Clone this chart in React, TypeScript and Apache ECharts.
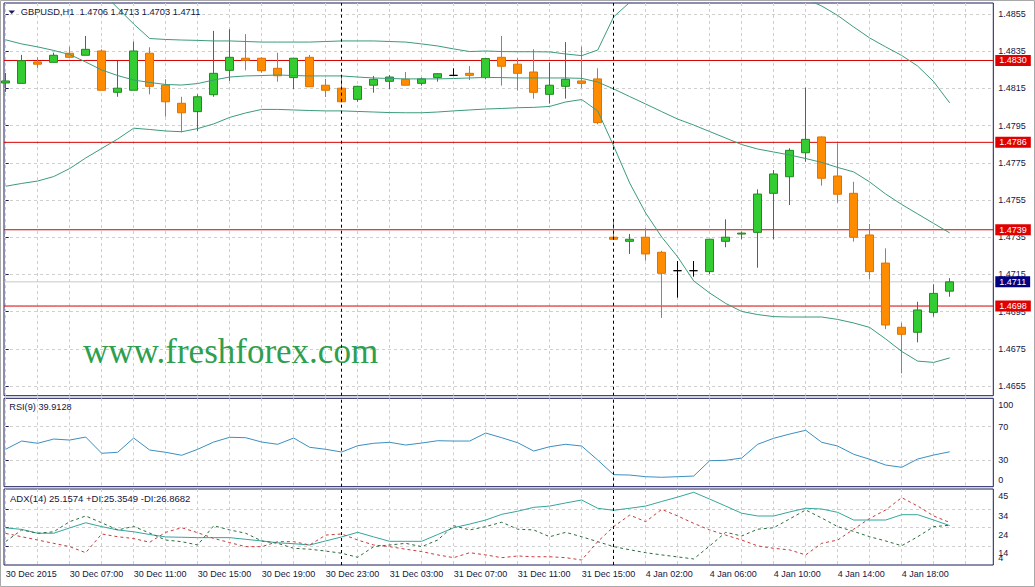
import React, { useEffect, useRef } from 'react';
import * as echarts from 'echarts';

// ---------- data ----------
const opens = [1.48179,1.48177,1.48292,1.48290,1.48339,1.48328,1.48351,1.48129,1.48140,1.48339,
1.48168,1.48070,1.48025,1.48116,1.48247,1.48312,1.48312,1.48258,1.48208,1.48317,
1.48167,1.48151,1.48091,1.48167,1.48188,1.48199,1.48177,1.48208,1.48220,1.48231,
1.48208,1.48317,1.48280,1.48238,1.48118,1.48161,1.48190,1.48201,1.47350,1.47328,
1.47350,1.47269,1.47170,1.47170,1.47165,1.47328,1.47367,1.47376,1.47586,1.47675,
1.47804,1.47889,1.47679,1.47586,1.47362,1.47211,1.46866,1.46839,1.46946,1.47060];
const highs = [1.48233,1.48330,1.48317,1.48342,1.48374,1.48432,1.48360,1.48297,1.48401,1.48371,
1.48199,1.48105,1.48118,1.48459,1.48468,1.48442,1.48317,1.48342,1.48312,1.48330,
1.48201,1.48222,1.48164,1.48217,1.48222,1.48238,1.48208,1.48232,1.48258,1.48270,
1.48312,1.48432,1.48312,1.48360,1.48290,1.48399,1.48374,1.48258,1.47446,1.47367,
1.47398,1.47277,1.47222,1.47222,1.47339,1.47446,1.47380,1.47607,1.47711,1.47828,
1.48154,1.47892,1.47855,1.47648,1.47421,1.47290,1.46890,1.47003,1.47097,1.47130];
const lows = [1.48131,1.48177,1.48258,1.48290,1.48317,1.48328,1.48140,1.48105,1.48140,1.48118,
1.47998,1.47914,1.47921,1.48105,1.48190,1.48247,1.48234,1.48186,1.48147,1.48159,
1.48104,1.48075,1.48078,1.48127,1.48147,1.48167,1.48165,1.48186,1.48220,1.48195,
1.48199,1.48165,1.48138,1.48095,1.48068,1.48095,1.48151,1.47957,1.47339,1.47260,
1.47224,1.46916,1.47025,1.47138,1.47152,1.47296,1.47339,1.47186,1.47339,1.47523,
1.47756,1.47627,1.47536,1.47326,1.47125,1.46856,1.46618,1.46785,1.46923,1.47030];
const closes = [1.48190,1.48299,1.48280,1.48328,1.48317,1.48360,1.48140,1.48151,1.48351,1.48161,
1.48078,1.48019,1.48105,1.48231,1.48317,1.48301,1.48245,1.48218,1.48312,1.48159,
1.48140,1.48078,1.48161,1.48199,1.48211,1.48167,1.48201,1.48229,1.48220,1.48220,
1.48310,1.48269,1.48231,1.48129,1.48167,1.48199,1.48177,1.47966,1.47339,1.47339,
1.47260,1.47156,1.47170,1.47170,1.47339,1.47350,1.47372,1.47582,1.47690,1.47817,
1.47876,1.47667,1.47581,1.47350,1.47165,1.46878,1.46828,1.46959,1.47048,1.47110];

const bbUpper = [1.48948,1.48921,1.48894,1.48867,1.48840,1.48760,1.48668,1.48582,1.48496,1.48418,
1.48413,1.48410,1.48408,1.48405,1.48405,1.48402,1.48399,1.48399,1.48399,1.48399,
1.48402,1.48405,1.48405,1.48405,1.48402,1.48399,1.48389,1.48378,1.48362,1.48348,
1.48351,1.48348,1.48347,1.48347,1.48346,1.48335,1.48326,1.48356,1.48535,1.48612,
1.48679,1.48760,1.48813,1.48840,1.48867,1.48867,1.48840,1.48787,1.48733,1.48674,
1.48631,1.48593,1.48542,1.48480,1.48421,1.48373,1.48327,1.48270,1.48186,1.48072];
const bbMiddle = [1.48411,1.48389,1.48373,1.48354,1.48332,1.48292,1.48249,1.48219,1.48195,1.48182,
1.48171,1.48168,1.48176,1.48195,1.48211,1.48217,1.48219,1.48222,1.48219,1.48217,
1.48217,1.48217,1.48211,1.48206,1.48203,1.48201,1.48201,1.48201,1.48203,1.48206,
1.48209,1.48208,1.48206,1.48206,1.48206,1.48206,1.48204,1.48184,1.48147,1.48106,
1.48066,1.48025,1.47985,1.47953,1.47918,1.47883,1.47848,1.47824,1.47808,1.47792,
1.47773,1.47752,1.47725,1.47701,1.47647,1.47582,1.47526,1.47475,1.47424,1.47373];
const bbLower = [1.47624,1.47639,1.47652,1.47676,1.47719,1.47776,1.47827,1.47878,1.47936,1.47929,
1.47921,1.47917,1.47934,1.47959,1.47994,1.48018,1.48037,1.48037,1.48034,1.48031,
1.48029,1.48029,1.48026,1.48023,1.48020,1.48019,1.48019,1.48023,1.48029,1.48034,
1.48039,1.48042,1.48046,1.48048,1.48053,1.48077,1.48090,1.48029,1.47840,1.47641,
1.47480,1.47351,1.47244,1.47115,1.47050,1.46994,1.46951,1.46934,1.46923,1.46921,
1.46921,1.46921,1.46908,1.46889,1.46865,1.46803,1.46736,1.46684,1.46677,1.46701];

const rsi = [43.0,52.8,50.1,55.2,54.0,57.6,38.1,39.3,56.4,42.0,
39.3,35.7,42.9,51.6,57.3,56.8,51.6,48.9,56.4,45.3,
42.9,39.6,47.2,50.1,51.3,48.0,50.4,53.2,52.8,52.8,
62.4,56.8,50.8,40.8,46.0,48.9,46.8,30.0,12.4,12.0,
10.0,9.3,10.0,10.8,29.2,29.7,32.4,48.9,56.1,61.2,
65.7,51.3,46.8,36.9,30.9,24.0,21.3,31.2,36.0,39.91];

const adx = [23.9,23.1,21.0,21.0,23.9,26.7,24.6,22.8,21.8,20.3,
19.0,18.8,18.6,18.6,18.6,17.7,16.8,15.8,15.3,14.6,
16.8,19.0,21.5,19.0,16.6,16.6,16.6,20.3,24.0,26.0,
28.2,31.3,33.0,35.1,35.8,37.5,39.1,34.6,33.5,34.6,
35.8,38.3,40.7,43.3,39.6,35.8,31.9,30.4,30.4,32.6,
34.6,34.2,32.4,28.2,28.2,28.2,31.1,31.1,28.2,25.16];
const plusDI = [16.5,22.8,21.0,21.8,27.3,30.4,26.7,22.8,24.7,21.1,
17.3,16.4,14.6,25.1,22.8,21.0,16.8,15.5,12.8,12.3,
11.3,10.1,7.9,13.7,14.6,15.5,13.7,17.3,25.1,22.8,
24.6,27.0,23.2,22.8,19.1,21.5,19.1,16.4,13.7,12.0,
10.4,9.2,8.1,7.0,14.1,21.5,19.5,23.2,24.0,28.8,
33.7,29.3,24.6,22.0,19.1,16.8,14.2,19.1,24.6,25.35];
const minusDI = [20.9,19.1,17.3,15.5,13.7,10.4,20.6,19.1,18.1,16.1,
21.5,24.0,21.3,18.2,15.9,13.7,13.7,16.4,16.4,14.6,
20.0,20.6,17.3,14.6,13.7,12.3,11.0,9.2,7.7,10.4,
9.2,7.7,8.6,8.2,8.2,7.7,6.4,16.4,24.6,30.9,
27.3,34.0,30.4,26.4,22.8,20.0,17.3,14.1,12.8,11.9,
9.2,15.5,17.3,23.2,29.1,33.7,40.4,35.8,30.4,26.87];

const timeLabels = ['30 Dec 2015','30 Dec 07:00','30 Dec 11:00','30 Dec 15:00','30 Dec 19:00',
'30 Dec 23:00','31 Dec 03:00','31 Dec 07:00','31 Dec 11:00','31 Dec 15:00',
'4 Jan 02:00','4 Jan 06:00','4 Jan 10:00','4 Jan 14:00','4 Jan 18:00'];
const timeLabelBars = [0,4,8,12,16,20,24,28,32,36,40,44,48,52,56];
const gridBars = [0,2,4,6,8,10,12,14,16,18,20,22,24,26,28,30,32,34,36,38,40,42,44,46,48,50,52,54,56,58,60];
const separators = [21, 38];

const priceTicks = [1.4655,1.4675,1.4695,1.4715,1.4735,1.4755,1.4775,1.4795,1.4815,1.4835,1.4855];
const levels = [1.4830, 1.4786, 1.4739, 1.4698];
const bidPrice = 1.4711;
const rsiMidLabels = [30, 70];
const rsiEdgeLabels = [100, 0];
const adxLabels = [45, 34, 24, 14];
const adxBottomLabel = 4;
const adxGridLevels = [34, 24, 14];

const headerText = 'GBPUSD,H1  1.4706 1.4713 1.4703 1.4711';
const rsiText = 'RSI(9) 39.9128';
const adxText = 'ADX(14) 25.1574 +DI:25.3549 -DI:26.8682';
const watermark = 'www.freshforex.com';

// ---------- style ----------
const NAVY = '#1a1a5c';
const TXT = '#15153f';
const FONT = '"Liberation Sans", Arial, sans-serif';
const GRIDC = '#cfcfcf';
const X_MIN = -0.106;
const X_MAX = 61.725;
const PLOT_LEFT = 4;
const PLOT_W = 989.3;
const AXIS_X = PLOT_LEFT + PLOT_W;

export default function App() {
  const ref = useRef<HTMLDivElement>(null);
  useEffect(() => {
    if (!ref.current) return;
    const chart = echarts.init(ref.current, undefined, { renderer: 'svg' });
    const splitStyle = { show: true, lineStyle: { color: GRIDC, type: [3, 3], width: 1 } };
    const labelFont = { fontSize: 9, fontFamily: FONT, color: TXT };

    const xAxisBase = (gi: number, withLabels: boolean) => ({
      type: 'value', gridIndex: gi, min: X_MIN, max: X_MAX,
      axisLine: { show: false },
      axisTick: { show: false, customValues: gridBars },
      splitLine: splitStyle,
      axisLabel: withLabels ? {
        show: true, customValues: timeLabelBars, align: 'left', margin: 4, ...labelFont,
        showMinLabel: true, showMaxLabel: true, hideOverlap: false,
        formatter: (v: number) => { const k = timeLabelBars.indexOf(Math.round(v)); return k >= 0 ? timeLabels[k] : ''; },
      } : { show: false },
    });

    const sepMarkLine = {
      symbol: 'none', silent: true, label: { show: false },
      lineStyle: { color: '#000', type: [3, 3], width: 1 },
      data: separators.map((s) => ({ xAxis: s })),
    };

    const levelSeries = [
      ...levels.map((lv) => ({ price: lv, line: '#d40000', bg: '#e00000' })),
      { price: bidPrice, line: '#c8c8c8', bg: '#000080' },
    ].map((L) => ({
      type: 'line', xAxisIndex: 0, yAxisIndex: 0, z: 1, clip: false, silent: true,
      showSymbol: false, symbol: 'none',
      data: [[X_MIN, L.price], [X_MAX, L.price]],
      lineStyle: { color: L.line, width: 1 },
      endLabel: {
        show: true, distance: 2, formatter: () => L.price.toFixed(4),
        backgroundColor: L.bg, color: '#ffffff', fontSize: 9, fontFamily: FONT,
        padding: [1, 4, 0, 4], lineHeight: 10,
      },
    }));

    const bb = (arr: number[]) => ({
      type: 'line', xAxisIndex: 0, yAxisIndex: 0, showSymbol: false, symbol: 'none', silent: true, z: 3,
      data: arr.map((v, i) => [i, v]), lineStyle: { color: '#3c9a7c', width: 1 },
    });

    const baseGraphic: any[] = [
      { id: 'frame', type: 'rect', silent: true, z: 100, shape: { x: 0.5, y: 0.5, width: 1034, height: 586 }, style: { fill: 'none', stroke: '#a8a8a8', lineWidth: 1 } },
      { id: 'tri', type: 'polygon', silent: true, z: 100, shape: { points: [[8.5, 10.5], [15, 10.5], [11.75, 14]] }, style: { fill: NAVY } },
      { id: 'hdr', type: 'text', silent: true, z: 100, x: 20.7, y: 12, style: { text: headerText, fill: TXT, font: '9.3px "Liberation Sans", Arial, sans-serif', verticalAlign: 'middle', align: 'left' } },
      { id: 'rsiT', type: 'text', silent: true, z: 100, x: 9.3, y: 407.3, style: { text: rsiText, fill: TXT, font: '9.2px "Liberation Sans", Arial, sans-serif', verticalAlign: 'middle', align: 'left' } },
      { id: 'adxT', type: 'text', silent: true, z: 100, x: 10, y: 498.5, style: { text: adxText, fill: TXT, font: '9.5px "Liberation Sans", Arial, sans-serif', verticalAlign: 'middle', align: 'left' } },
      { id: 'wm', type: 'text', silent: true, z: 1, x: 83, y: 351, style: { text: watermark, fill: '#2e9e4f', font: '35px "Liberation Serif", "Times New Roman", serif', verticalAlign: 'middle', align: 'left' } },
    ];

    const option: any = {
      animation: false,
      backgroundColor: '#ffffff',
      grid: [
        { left: PLOT_LEFT, top: 3, width: PLOT_W, height: 392.7, show: true, borderColor: NAVY, borderWidth: 1 },
        { left: PLOT_LEFT, top: 398.3, width: PLOT_W, height: 88.4, show: true, borderColor: NAVY, borderWidth: 1 },
        { left: PLOT_LEFT, top: 489, width: PLOT_W, height: 76, show: true, borderColor: NAVY, borderWidth: 1 },
      ],
      xAxis: [xAxisBase(0, false), xAxisBase(1, false), xAxisBase(2, true)],
      yAxis: [
        {
          type: 'value', gridIndex: 0, position: 'right', min: 1.46498, max: 1.48609,
          axisLine: { show: false },
          axisTick: { show: true, length: 3, customValues: priceTicks, lineStyle: { color: NAVY } },
          axisLabel: { customValues: priceTicks, margin: 5, ...labelFont, showMinLabel: true, showMaxLabel: true, hideOverlap: false, formatter: (v: number) => v.toFixed(4) },
          splitLine: splitStyle,
        },
        {
          type: 'value', gridIndex: 1, position: 'right', min: -2, max: 104.1,
          axisLine: { show: false },
          axisTick: { show: true, length: 3, customValues: rsiMidLabels, lineStyle: { color: NAVY } },
          axisLabel: { customValues: rsiMidLabels, margin: 5, ...labelFont, showMinLabel: true, showMaxLabel: true, hideOverlap: false },
          splitLine: splitStyle,
        },
        {
          type: 'value', gridIndex: 2, position: 'right', min: 3.7, max: 45.1,
          axisLine: { show: false },
          axisTick: { show: true, length: 3, customValues: adxGridLevels, lineStyle: { color: NAVY } },
          axisLabel: {
            customValues: adxLabels, margin: 5, ...labelFont, verticalAlign: 'top', padding: [2.5, 0, 0, 0],
            showMinLabel: true, showMaxLabel: true, hideOverlap: false,
          },
          splitLine: splitStyle,
        },
      ],
      series: [
        ...levelSeries,
        bb(bbUpper), bb(bbMiddle), bb(bbLower),
        {
          type: 'candlestick', xAxisIndex: 0, yAxisIndex: 0, z: 2, silent: true,
          data: opens.map((o, i) => [i, o, closes[i], lows[i], highs[i]]),
          encode: { x: 0, y: [1, 2, 3, 4] },
          barWidth: 9,
          itemStyle: {
            color: '#33cc33', color0: '#ff8c00',
            borderColor: '#1f8a1f', borderColor0: '#e07000', borderColorDoji: '#000000',
            borderWidth: 1,
          },
          markLine: sepMarkLine,
        },
        {
          type: 'line', xAxisIndex: 1, yAxisIndex: 1, showSymbol: false, symbol: 'none', silent: true,
          data: rsi.map((v, i) => [i, v]), lineStyle: { color: '#3a8fbf', width: 1 },
          markLine: sepMarkLine,
        },
        {
          type: 'line', xAxisIndex: 2, yAxisIndex: 2, showSymbol: false, symbol: 'none', silent: true,
          data: adx.map((v, i) => [i, v]), lineStyle: { color: '#35a59c', width: 1 },
          markLine: sepMarkLine,
        },
        {
          type: 'line', xAxisIndex: 2, yAxisIndex: 2, showSymbol: false, symbol: 'none', silent: true,
          data: plusDI.map((v, i) => [i, v]), lineStyle: { color: '#2d6b3d', width: 1, type: [3, 3] },
        },
        {
          type: 'line', xAxisIndex: 2, yAxisIndex: 2, showSymbol: false, symbol: 'none', silent: true,
          data: minusDI.map((v, i) => [i, v]), lineStyle: { color: '#c83a3a', width: 1, type: [3, 3] },
        },
      ],
      graphic: baseGraphic,
    };
    chart.setOption(option);

    // edge labels of the indicator scales (drawn inside the panel edge, as in MT4)
    const edgeText = (id: string, txt: string, y: number) => ({
      id, type: 'text', silent: true, z: 100, x: AXIS_X + 5, y,
      style: { text: txt, fill: TXT, font: '9px "Liberation Sans", Arial, sans-serif', verticalAlign: 'middle', align: 'left' },
    });
    const yTop = chart.convertToPixel({ yAxisIndex: 1 }, rsiEdgeLabels[0]) as number;
    const yBot = chart.convertToPixel({ yAxisIndex: 1 }, rsiEdgeLabels[1]) as number;
    const yAdx = chart.convertToPixel({ yAxisIndex: 2 }, adxBottomLabel) as number;
    chart.setOption({
      graphic: [
        ...baseGraphic,
        edgeText('rsi100', String(rsiEdgeLabels[0]), yTop + 3.4),
        edgeText('rsi0', String(rsiEdgeLabels[1]), yBot - 5),
        edgeText('adx4', String(adxBottomLabel), yAdx - 6),
      ],
    });
    return () => chart.dispose();
  }, []);
  return <div ref={ref} style={{ position: 'fixed', left: 0, top: 0, width: 1035, height: 587 }} />;
}
